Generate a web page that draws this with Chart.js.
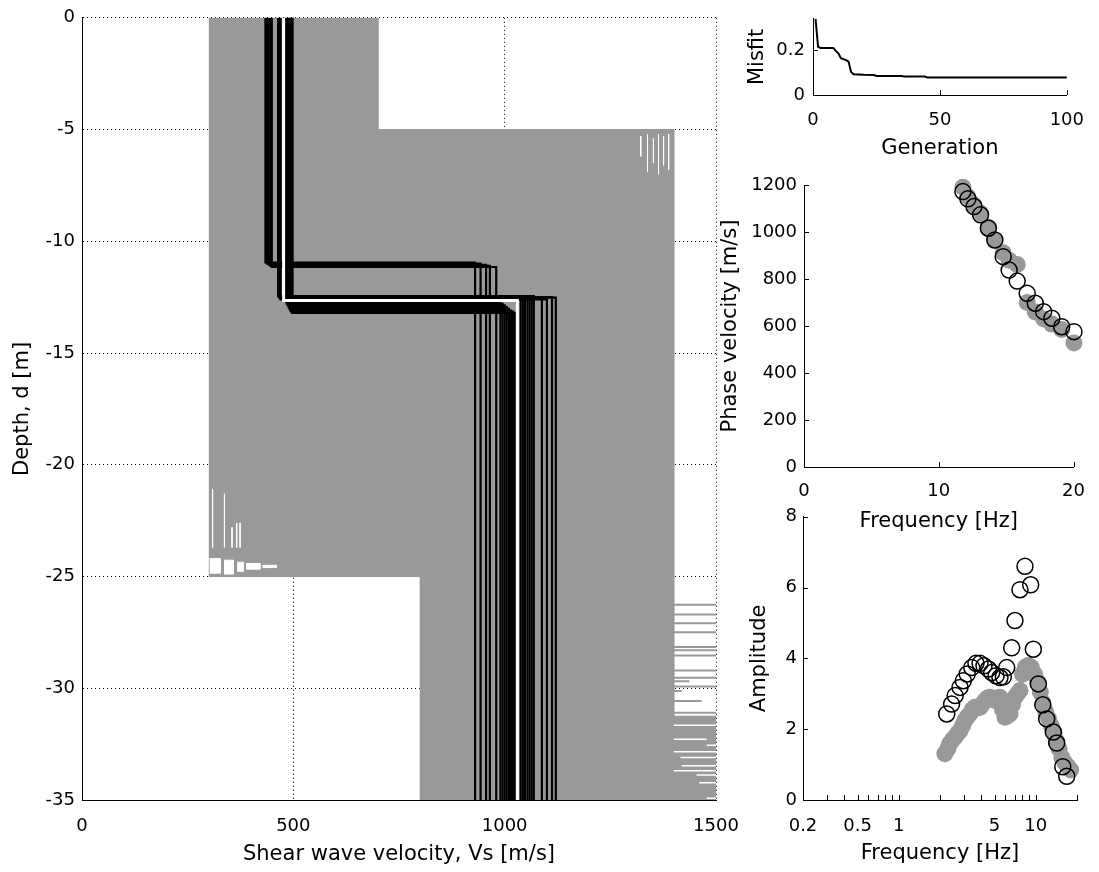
<!DOCTYPE html>
<html>
<head>
<meta charset="utf-8">
<script src="https://cdn.jsdelivr.net/npm/chart.js@4.4.1/dist/chart.umd.min.js"></script>
<style>
  html, body { margin: 0; padding: 0; background: #fff; }
  body { width: 1099px; height: 872px; position: relative; overflow: hidden; }
  canvas { position: absolute; }
</style>
</head>
<body>
<canvas id="profileChart" width="760" height="872" style="left:0;top:0"></canvas>
<canvas id="misfitChart" width="359" height="180" style="left:740px;top:0"></canvas>
<canvas id="phaseChart" width="399" height="390" style="left:700px;top:160px"></canvas>
<canvas id="ampChart" width="399" height="372" style="left:700px;top:500px"></canvas>
<script>
// ---- left panel: tested Vs profiles ----
const vsTicks = [0, 500, 1000, 1500];
const depthTicks = [0, -5, -10, -15, -20, -25, -30, -35];
const depthBottom = -35;

// outline of the cloud of tested profiles
const envVs = [300, 700, 700, 1400, 1400, 800, 800, 300];
const envDepth = [0, 0, -5, -5, -35, -35, -25, -25];

// ragged lower-right corner (1400-1500 m/s)
const blockVs = [1400, 1500, 1500, 1400];
const blockDepth = [-31.25, -31.25, -35, -35];
const grayStreakDepth = [-26.26, -26.7, -27.09, -27.49, -28.15, -28.3, -28.53, -29.2, -29.53, -29.69, -29.92, -30.12, -30.57, -31.1];
const grayStreakEnd = [1500, 1500, 1500, 1500, 1500, 1500, 1500, 1500, 1500, 1437, 1500, 1419, 1466, 1500];
const whiteStreakDepth = [-31.65, -32.28, -32.55, -32.84, -33.1, -33.47, -33.69, -33.88, -34.23, -34.92];
const whiteStreakStart = [1400, 1400, 1478, 1400, 1416, 1419, 1400, 1454, 1460, 1478];
const whiteStreakEnd = [1500, 1478, 1500, 1500, 1500, 1500, 1500, 1500, 1500, 1500];

// ragged lower-left corner (white holes)
const holeVsLeft = [302, 336, 367, 388, 427];
const holeVsRight = [327, 358, 382, 421, 460];
const holeTop = [-24.2, -24.27, -24.36, -24.42, -24.5];
const holeBottom = [-24.85, -24.89, -24.77, -24.67, -24.6];
const dashVs = [309, 337, 355, 366, 374];
const dashTop = [-21.1, -21.3, -22.8, -22.6, -22.6];
const dashBottom = [-23.7, -23.7, -23.7, -23.7, -23.7];

// ragged upper-right corner near -5 m
const topDashVs = [1322, 1338, 1352, 1364, 1376, 1388];
const topDashTop = [-5.3, -5.2, -5.4, -5.2, -5.3, -5.2];
const topDashBottom = [-6.2, -6.9, -6.5, -7.0, -6.6, -6.8];

// best profiles (black): first-layer Vs, interface depth, half-space Vs
const bestVs1 = [434, 438, 442, 446, 449,
                 464, 466, 468, 470, 484, 487, 490, 493, 496, 498, 492,
                 483, 485, 487, 489, 491, 493, 495, 497];
const bestDepth = [10.95, 11.0, 11.05, 11.1, 11.15,
                   12.45, 12.5, 12.55, 12.6, 12.5, 12.58, 12.45, 12.55, 12.6, 12.5, 12.52,
                   12.72, 12.8, 12.87, 12.95, 13.02, 13.1, 13.15, 13.2];
const bestVs2 = [930, 943, 956, 965, 980,
                 1038, 1043, 1048, 1054, 1059, 1064, 1069, 1088, 1100, 1112, 1121,
                 990, 995, 1000, 1005, 1010, 1015, 1020, 1024];
// final model (white)
const finalVs1 = 477;
const finalDepth = 12.65;
const finalVs2 = 1030;

// ---- misfit ----
const generation = [1, 2, 3, 8, 9, 10, 11, 13, 14, 15, 16, 18, 20, 24, 25, 35, 36, 44, 45, 100];
const misfit = [0.34, 0.215, 0.21, 0.21, 0.197, 0.186, 0.164, 0.156, 0.149, 0.103, 0.093, 0.092, 0.09, 0.089, 0.085, 0.085, 0.082, 0.082, 0.078, 0.078];
const genTicks = [0, 50, 100];
const misfitTicks = [0, 0.2];

// ---- dispersion curve ----
const phaseFreq = [11.79, 12.16, 12.61, 13.1, 13.68, 14.16, 14.78, 15.22, 15.82, 16.56, 17.16, 17.78, 18.39, 19.12, 20.03];
const phaseObs = [1172, 1141, 1108, 1073, 1016, 966, 895, 838, 791, 739, 697, 661, 633, 597, 576];
const phaseModel = [1190, 1150, 1115, 1080, 1020, 965, 912, 880, 862, 700, 660, 630, 608, 585, 528];
const freqTicks = [0, 10, 20];
const phaseTicks = [0, 200, 400, 600, 800, 1000, 1200];

// ---- H/V amplitude ----
const ampFreqObs = [2.24, 2.43, 2.58, 2.80, 2.96, 3.16, 3.41, 3.66, 3.92, 4.19, 4.51, 4.77, 5.13, 5.48, 5.80, 6.14, 6.67, 7.05, 7.67, 8.34, 9.18, 9.60, 10.44, 11.25, 12.02, 13.43, 14.22, 15.74, 16.83];
const ampObs = [2.43, 2.71, 2.95, 3.18, 3.37, 3.56, 3.74, 3.86, 3.86, 3.79, 3.70, 3.60, 3.51, 3.46, 3.48, 3.74, 4.30, 5.07, 5.94, 6.60, 6.08, 4.26, 3.28, 2.69, 2.29, 1.92, 1.61, 0.94, 0.67];
const ampFreqModel = [2.17, 2.28, 2.35, 2.47, 2.58, 2.69, 2.80, 2.92, 3.04, 3.17, 3.30, 3.44, 3.59, 3.75, 3.92, 4.09, 4.27, 4.45, 4.64, 4.84, 5.04, 5.26, 5.48, 5.72, 5.96, 6.21, 6.48, 6.76, 7.05, 7.35, 7.67, 8.0, 8.4, 8.8, 9.3, 9.8, 10.3, 10.8, 11.3, 11.8, 12.4, 13.0, 13.6, 14.2, 14.8, 15.5, 16.3, 17.1, 18.0];
const ampModel = [1.31, 1.45, 1.59, 1.70, 1.78, 1.88, 1.96, 2.10, 2.25, 2.35, 2.43, 2.55, 2.62, 2.60, 2.62, 2.72, 2.81, 2.88, 2.90, 2.85, 2.81, 2.88, 2.90, 2.55, 2.34, 2.38, 2.43, 2.70, 2.90, 3.00, 3.09, 3.55, 3.75, 3.80, 3.74, 3.55, 3.35, 3.05, 2.75, 2.50, 2.30, 2.10, 1.90, 1.65, 1.45, 1.20, 1.05, 0.95, 0.85];
const logTicks = [0.2, 0.3, 0.4, 0.5, 0.6, 0.7, 0.8, 0.9, 1, 2, 3, 4, 5, 6, 7, 8, 9, 10, 20];
const logLabels = [0.2, 0.5, 1, 5, 10];
const ampTicks = [0, 2, 4, 6, 8];

Chart.defaults.font.family = "'DejaVu Sans', sans-serif";
Chart.defaults.color = '#000';
Chart.defaults.animation = false;
Chart.defaults.events = [];
Chart.defaults.plugins.legend.display = false;
Chart.defaults.plugins.tooltip.enabled = false;

const GRAY = '#999999';
const tickFont = {size: 18};
const titleFont = {size: 21};

// helpers
const fixedTicks = vals => s => { s.ticks = vals.map(v => ({value: v})); };
const fixW = w => s => { s.width = w; };
const fixH = h => s => { s.height = h; };
const zip = (xs, ys) => xs.map((x, i) => ({x: x, y: ys[i]}));

function seg(pts, color, width, extra) {
    return Object.assign({
        data: pts, showLine: true, borderColor: color, borderWidth: width,
        pointRadius: 0, fill: false, clip: 0
    }, extra || {});
}
function shape(pts, color) {
    return seg(pts, color, 1, {fill: 'shape', backgroundColor: color});
}
function profile(vs1, d, vs2) {
    return [{x: vs1, y: 0}, {x: vs1, y: -d}, {x: vs2, y: -d}, {x: vs2, y: depthBottom}];
}

// inward tick marks, matlab style
const inTicks = {
    id: 'inTicks',
    afterDraw(chart) {
        const {ctx, chartArea: a, scales: {x, y}} = chart;
        const len = 5;
        ctx.save();
        ctx.strokeStyle = '#000';
        ctx.lineWidth = 1;
        ctx.beginPath();
        x.ticks.forEach(t => {
            const p = Math.round(x.getPixelForValue(t.value)) + 0.5;
            ctx.moveTo(p, a.bottom);
            ctx.lineTo(p, a.bottom - len);
        });
        y.ticks.forEach(t => {
            const p = Math.round(y.getPixelForValue(t.value)) + 0.5;
            ctx.moveTo(a.left, p);
            ctx.lineTo(a.left + len, p);
        });
        ctx.stroke();
        ctx.restore();
    }
};

function axis(o) {
    return {
        type: o.type || 'linear',
        min: o.min, max: o.max,
        afterBuildTicks: fixedTicks(o.ticks),
        afterFit: o.w ? fixW(o.w) : fixH(o.h),
        grid: o.grid ? {display: true, color: '#000', lineWidth: 1, drawTicks: false} : {display: false, drawTicks: false},
        border: {display: true, color: '#000', width: 1, dash: o.grid ? [1, 3] : []},
        ticks: {
            font: tickFont, padding: o.pad, maxRotation: 0, autoSkip: false,
            callback: o.label || (v => String(v))
        },
        title: {display: true, text: o.title, font: titleFont, padding: o.titlePad}
    };
}

// left panel datasets, first one ends up on top
const leftSets = [];
leftSets.push(seg(profile(finalVs1, finalDepth, finalVs2), '#fff', 3));
bestVs1.forEach((v, i) => leftSets.push(seg(profile(v, bestDepth[i], bestVs2[i]), '#000', 2.2)));
dashVs.forEach((v, i) => leftSets.push(seg([{x: v, y: dashTop[i]}, {x: v, y: dashBottom[i]}], '#fff', 1)));
topDashVs.forEach((v, i) => leftSets.push(seg([{x: v, y: topDashTop[i]}, {x: v, y: topDashBottom[i]}], '#fff', 1)));
holeVsLeft.forEach((v, i) => leftSets.push(shape(zip(
    [v, holeVsRight[i], holeVsRight[i], v],
    [holeTop[i], holeTop[i], holeBottom[i], holeBottom[i]]), '#fff')));
whiteStreakDepth.forEach((d, i) => leftSets.push(seg(
    [{x: whiteStreakStart[i], y: d}, {x: whiteStreakEnd[i], y: d}], '#fff', 1.5)));
grayStreakDepth.forEach((d, i) => leftSets.push(seg(
    [{x: 1400, y: d}, {x: grayStreakEnd[i], y: d}], GRAY, 2)));
leftSets.push(shape(zip(blockVs, blockDepth), GRAY));
leftSets.push(shape(zip(envVs, envDepth), GRAY));

new Chart(document.getElementById('profileChart'), {
    type: 'scatter',
    data: {datasets: leftSets},
    options: {
        responsive: false,
        devicePixelRatio: 1,
        layout: {padding: {left: 0, top: 15, right: 44, bottom: 0}},
        scales: {
            x: axis({min: 0, max: 1500, ticks: vsTicks, h: 72, pad: 16, grid: true,
                title: 'Shear wave velocity, Vs [m/s]', titlePad: {top: 0, bottom: 5}}),
            y: axis({min: -35, max: 0, ticks: depthTicks, w: 82, pad: 7, grid: true,
                title: 'Depth, d [m]', titlePad: {top: 10, bottom: 0}})
        }
    }
});

new Chart(document.getElementById('misfitChart'), {
    type: 'scatter',
    data: {datasets: [seg(zip(generation, misfit), '#000', 2, {clip: false})]},
    options: {
        responsive: false,
        devicePixelRatio: 1,
        layout: {padding: {left: 0, top: 15, right: 22, bottom: 0}},
        scales: {
            x: axis({min: 0, max: 100, ticks: genTicks, h: 85, pad: 15,
                title: 'Generation', titlePad: {top: 0, bottom: 19}}),
            y: axis({min: 0, max: 0.34, ticks: misfitTicks, w: 73, pad: 8,
                title: 'Misfit', titlePad: {top: 5, bottom: 0}})
        }
    },
    plugins: [inTicks]
});

const openDot = {pointRadius: 8, pointBorderWidth: 1.5, pointBorderColor: '#000', pointBackgroundColor: 'rgba(0,0,0,0)', showLine: false, clip: false};
const grayDot = {pointRadius: 8.5, pointBorderWidth: 0, pointBorderColor: GRAY, pointBackgroundColor: GRAY, showLine: false, clip: false};

new Chart(document.getElementById('phaseChart'), {
    type: 'scatter',
    data: {datasets: [
        Object.assign({data: zip(phaseFreq, phaseObs)}, openDot),
        Object.assign({data: zip(phaseFreq, phaseModel)}, grayDot)
    ]},
    options: {
        responsive: false,
        devicePixelRatio: 1,
        layout: {padding: {left: 0, top: 25, right: 22, bottom: 0}},
        scales: {
            x: axis({min: 0, max: 20, ticks: freqTicks, h: 83, pad: 14,
                title: 'Frequency [Hz]', titlePad: {top: 0, bottom: 16}}),
            y: axis({min: 0, max: 1200, ticks: phaseTicks, w: 104, pad: 7,
                title: 'Phase velocity [m/s]', titlePad: {top: 18, bottom: 0}})
        }
    },
    plugins: [inTicks]
});

new Chart(document.getElementById('ampChart'), {
    type: 'scatter',
    data: {datasets: [
        Object.assign({data: zip(ampFreqObs, ampObs)}, openDot),
        Object.assign({data: zip(ampFreqModel, ampModel)}, grayDot)
    ]},
    options: {
        responsive: false,
        devicePixelRatio: 1,
        layout: {padding: {left: 0, top: 15, right: 22, bottom: 0}},
        scales: {
            x: axis({type: 'logarithmic', min: 0.2, max: 20, ticks: logTicks, h: 72, pad: 16,
                label: v => logLabels.includes(v) ? String(v) : '',
                title: 'Frequency [Hz]', titlePad: {top: 0, bottom: 6}}),
            y: axis({min: 0, max: 8, ticks: ampTicks, w: 103, pad: 6,
                title: 'Amplitude', titlePad: {top: 47, bottom: 0}})
        }
    },
    plugins: [inTicks]
});
</script>
</body>
</html>
